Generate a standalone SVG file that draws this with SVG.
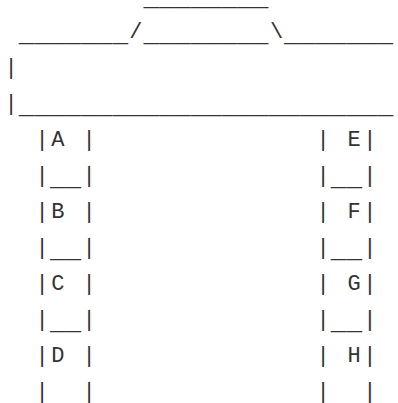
<svg xmlns="http://www.w3.org/2000/svg" width="398" height="403" viewBox="0 0 398 403">
<style>
text{font-family:"Liberation Mono","Courier New",monospace;fill:#333;white-space:pre;font-size:22px;letter-spacing:2.4px}
.u{font-size:26px;letter-spacing:0}
.n{letter-spacing:0}
</style>
<rect width="398" height="403" fill="#fff"/>
<g id="roof">
<text x="143.6" y="5" class="u">________</text>
<text y="38"><tspan class="u" x="18.8" dy="3">_______</tspan><tspan class="n" x="129.2" dy="-3">/</tspan><tspan class="u" x="143.6" dy="3">________</tspan><tspan class="n" x="270" dy="-3">\</tspan><tspan class="u" x="284" dy="3">_______</tspan></text>
<text x="4.4" y="74">|</text>
<text y="110"><tspan x="4.4">|</tspan><tspan class="u" x="18.8" dy="3">________________________</tspan></text>
</g>
<g id="left-column">
<text x="35.6" y="146" xml:space="preserve">|A |</text>
<text y="182"><tspan x="35.6">|</tspan><tspan class="u" x="50" dy="3">__</tspan><tspan x="82.4" dy="-3">|</tspan></text>
<text x="35.6" y="218" xml:space="preserve">|B |</text>
<text y="254"><tspan x="35.6">|</tspan><tspan class="u" x="50" dy="3">__</tspan><tspan x="82.4" dy="-3">|</tspan></text>
<text x="35.6" y="290" xml:space="preserve">|C |</text>
<text y="326"><tspan x="35.6">|</tspan><tspan class="u" x="50" dy="3">__</tspan><tspan x="82.4" dy="-3">|</tspan></text>
<text x="35.6" y="362" xml:space="preserve">|D |</text>
<text x="35.6" y="398" xml:space="preserve">|  |</text>
</g>
<g id="right-column">
<text x="316.4" y="146" xml:space="preserve">| E|</text>
<text y="182"><tspan x="316.4">|</tspan><tspan class="u" x="330.8" dy="3">__</tspan><tspan x="363.2" dy="-3">|</tspan></text>
<text x="316.4" y="218" xml:space="preserve">| F|</text>
<text y="254"><tspan x="316.4">|</tspan><tspan class="u" x="330.8" dy="3">__</tspan><tspan x="363.2" dy="-3">|</tspan></text>
<text x="316.4" y="290" xml:space="preserve">| G|</text>
<text y="326"><tspan x="316.4">|</tspan><tspan class="u" x="330.8" dy="3">__</tspan><tspan x="363.2" dy="-3">|</tspan></text>
<text x="316.4" y="362" xml:space="preserve">| H|</text>
<text x="316.4" y="398" xml:space="preserve">|  |</text>
</g>
</svg>
